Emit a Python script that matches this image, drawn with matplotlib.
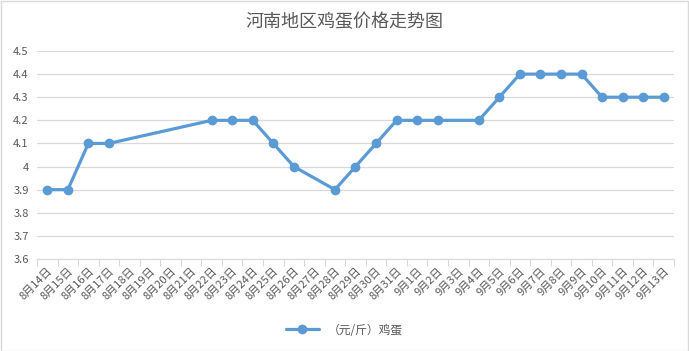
import numpy as np
import matplotlib
matplotlib.use('Agg')
import matplotlib.pyplot as plt

plt.rcParams['font.family'] = ['Noto Sans CJK SC', 'DejaVu Sans']

dates = ['8月%d日' % d for d in range(14, 32)] + ['9月%d日' % d for d in range(1, 14)]
prices = [3.9, 3.9, 4.1, 4.1, None, None, None, None, 4.2, 4.2, 4.2, 4.1, 4.0, None,
          3.9, 4.0, 4.1, 4.2, 4.2, 4.2, None, 4.2, 4.3, 4.4, 4.4, 4.4, 4.4, 4.3, 4.3, 4.3, 4.3]
yticks = [3.6, 3.7, 3.8, 3.9, 4.0, 4.1, 4.2, 4.3, 4.4, 4.5]
ylabels = ['3.6', '3.7', '3.8', '3.9', '4', '4.1', '4.2', '4.3', '4.4', '4.5']
series_name = '（元/斤）鸡蛋'

blue = '#5B9BD5'
txt = '#595959'

fig = plt.figure(figsize=(6.89, 3.51), dpi=100)
ax = fig.add_axes([37/689, 1 - 259/351, 637/689, 208/351])

xs = [i for i, v in enumerate(prices) if v is not None]
ys = [v for v in prices if v is not None]
ax.plot(xs, ys, color=blue, lw=2.3, marker='o', ms=6, label=series_name, solid_capstyle='round')

ax.set_xlim(-0.5, len(dates) - 0.5)
ax.set_ylim(3.6, 4.5)
ax.set_yticks(yticks)
ax.set_yticklabels(ylabels, fontsize=8, color=txt)
ax.grid(axis='y', color='#D9D9D9', lw=0.9)
ax.set_axisbelow(True)
for s in ['top', 'right', 'left']:
    ax.spines[s].set_visible(False)
ax.spines['bottom'].set_color('#D9D9D9')
ax.tick_params(axis='y', length=0, pad=6)

# ticks between categories, labels at centres
ax.set_xticks(np.arange(-0.5, len(dates), 1.0))
ax.set_xticklabels([])
ax.tick_params(axis='x', which='major', length=5, color='#D9D9D9', direction='out')
ax.set_xticks(np.arange(len(dates)), minor=True)
ax.set_xticklabels(dates, minor=True, rotation=45, ha='right', rotation_mode='anchor',
                   fontsize=8, color=txt)
ax.tick_params(axis='x', which='minor', length=0, pad=5)

fig.text(0.5, 1 - 22/351, '河南地区鸡蛋价格走势图', ha='center', va='center', fontsize=13, color=txt)

leg = fig.legend(loc='center', bbox_to_anchor=(0.5, 1 - 330/351), frameon=False, fontsize=8.5,
                 handlelength=2.8)
for t in leg.get_texts():
    t.set_color(txt)

fig.patches.append(plt.Rectangle((0.5/689, 0.5/351), 1 - 1.5/689, 1 - 1.5/351, transform=fig.transFigure,
                                 fill=False, edgecolor='#D9D9D9', lw=1))

fig.savefig('out.png', dpi=100)
